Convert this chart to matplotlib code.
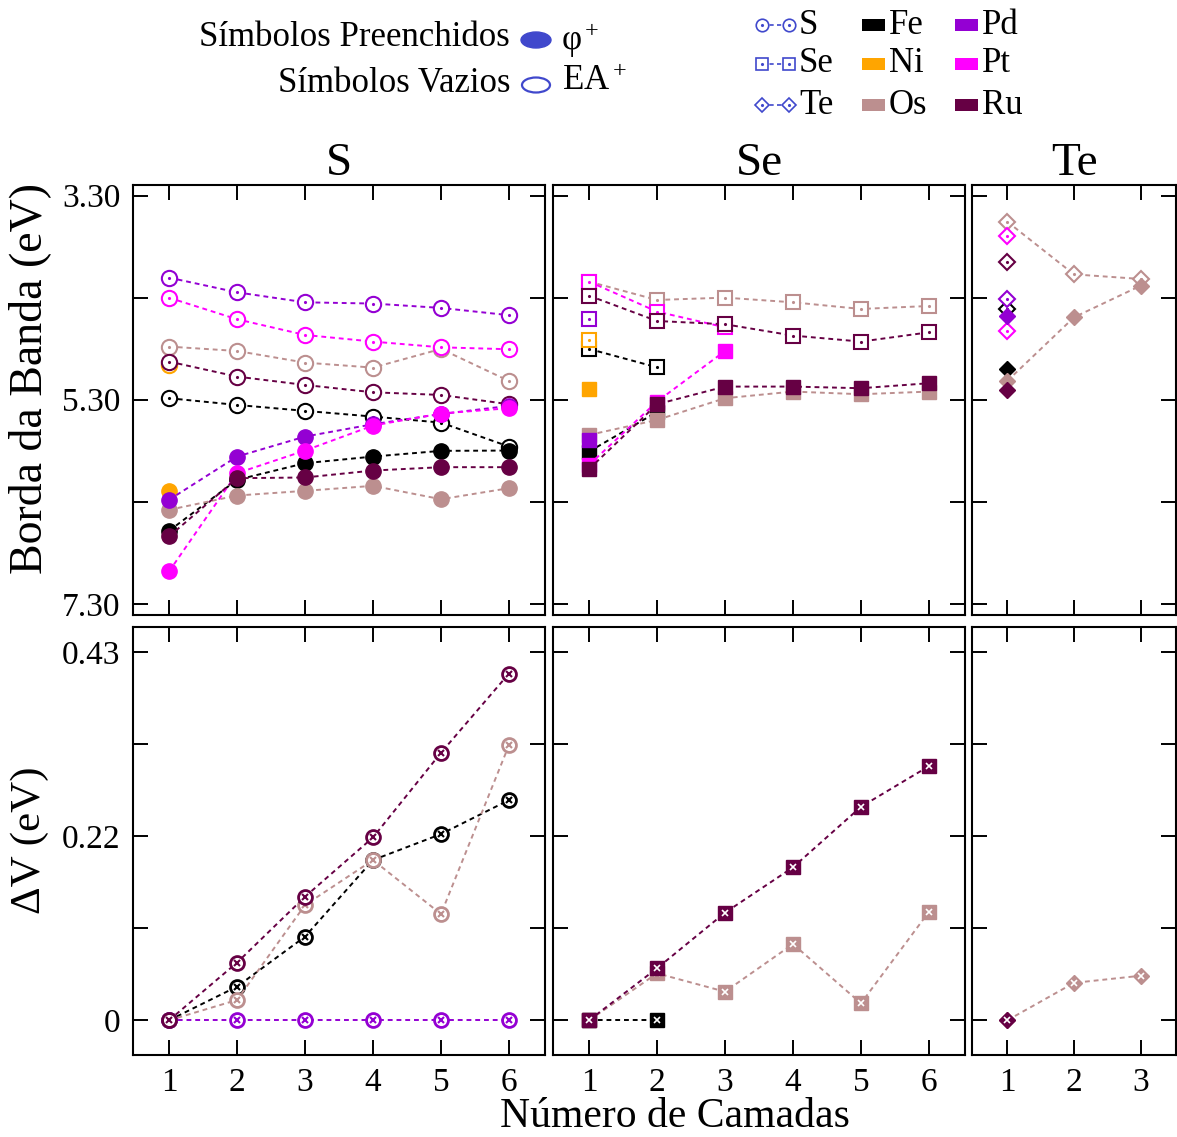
import matplotlib
matplotlib.use("Agg")
import matplotlib.pyplot as plt
from matplotlib.lines import Line2D
from matplotlib.patches import Ellipse, Rectangle

plt.rcParams['font.family'] = ['Liberation Serif', 'DejaVu Serif']
plt.rcParams['mathtext.fontset'] = 'custom'
plt.rcParams['mathtext.rm'] = 'Liberation Serif'
plt.rcParams['mathtext.it'] = 'Liberation Serif:italic'

# colours per metal
metals = ['Fe', 'Ni', 'Os', 'Pd', 'Pt', 'Ru']
colors = {'Fe': '#000000', 'Ni': '#FFA500', 'Os': '#BC8F8F',
          'Pd': '#9400D3', 'Pt': '#FF00FF', 'Ru': '#660044'}
legend_blue = '#4048CC'

# ---- band edges (eV), top row ----
# S panel
S_x = {'Fe': [1, 2, 3, 4, 5, 6], 'Ni': [1], 'Os': [1, 2, 3, 4, 5, 6],
       'Pd': [1, 2, 3, 4, 5, 6], 'Pt': [1, 2, 3, 4, 5, 6], 'Ru': [1, 2, 3, 4, 5, 6]}
S_ea = {'Fe': [5.285, 5.351, 5.409, 5.465, 5.524, 5.759],
        'Ni': [4.96],
        'Os': [4.779, 4.822, 4.936, 4.985, 4.802, 5.116],
        'Pd': [4.103, 4.247, 4.345, 4.357, 4.40, 4.471],
        'Pt': [4.30, 4.511, 4.665, 4.730, 4.786, 4.805],
        'Ru': [4.926, 5.073, 5.155, 5.227, 5.253, 5.344]}
S_phi = {'Fe': [6.585, 6.085, 5.922, 5.857, 5.801, 5.798],
         'Ni': [6.193],
         'Os': [6.379, 6.239, 6.193, 6.144, 6.275, 6.167],
         'Pd': [6.281, 5.857, 5.661, 5.54, 5.44, 5.36],
         'Pt': [6.983, 6.02, 5.798, 5.553, 5.435, 5.383],
         'Ru': [6.64, 6.069, 6.062, 5.994, 5.961, 5.961]}

# Se panel
Se_x = {'Fe': [1, 2], 'Ni': [1], 'Os': [1, 2, 3, 4, 5, 6],
        'Pd': [1], 'Pt': [1, 2, 3], 'Ru': [1, 2, 3, 4, 5, 6]}
Se_ea = {'Fe': [4.802, 4.982],
         'Ni': [4.714],
         'Os': [4.142, 4.322, 4.299, 4.345, 4.41, 4.381],
         'Pd': [4.508],
         'Pt': [4.142, 4.436, 4.59],
         'Ru': [4.28, 4.528, 4.56, 4.671, 4.73, 4.639]}
Se_phi = {'Fe': [5.808, 5.42],
          'Ni': [5.197],
          'Os': [5.645, 5.498, 5.285, 5.22, 5.246, 5.22],
          'Pd': [5.693],
          'Pt': [5.938, 5.318, 4.822],
          'Ru': [5.98, 5.344, 5.171, 5.171, 5.187, 5.138]}

# Te panel
Te_ea_x = {'Fe': [1], 'Os': [1, 2, 3], 'Pd': [1], 'Pt': [1, 1], 'Ru': [1]}
Te_ea = {'Fe': [4.41], 'Os': [3.555, 4.071, 4.116], 'Pd': [4.316],
         'Pt': [3.692, 4.622], 'Ru': [3.953]}
Te_phi_x = {'Fe': [1], 'Os': [1, 2, 3], 'Pd': [1], 'Ru': [1]}
Te_phi = {'Fe': [4.998], 'Os': [5.115, 4.492, 4.182], 'Pd': [4.479], 'Ru': [5.204]}

# ---- Delta V (eV), bottom row ----
S_dv_x = {'Fe': [1, 2, 3, 4, 5, 6], 'Os': [1, 2, 3, 4, 5, 6],
          'Pd': [1, 2, 3, 4, 5, 6], 'Ru': [1, 2, 3, 4, 5, 6]}
S_dv = {'Fe': [0, 0.0393, 0.0976, 0.187, 0.2173, 0.257],
        'Os': [0, 0.0237, 0.1345, 0.187, 0.124, 0.3211],
        'Pd': [0, 0, 0, 0, 0, 0],
        'Ru': [0, 0.0673, 0.1442, 0.2134, 0.3122, 0.4047]}
Se_dv_x = {'Fe': [1, 2], 'Os': [1, 2, 3, 4, 5, 6], 'Ru': [1, 2, 3, 4, 5, 6]}
Se_dv = {'Fe': [0, 0],
         'Os': [0, 0.0548, 0.0334, 0.089, 0.0198, 0.1267],
         'Ru': [0, 0.0607, 0.1256, 0.1785, 0.2492, 0.2966]}
Te_dv_x = {'Os': [1, 2, 3], 'Ru': [1]}
Te_dv = {'Os': [0, 0.0437, 0.052], 'Ru': [0]}

panel_titles = ['S', 'Se', 'Te']
markers = ['o', 's', 'D']

W, H = 1177, 1137
fig = plt.figure(figsize=(W / 100, H / 100), dpi=100)

def px_rect(x0, y0, x1, y1):
    return [x0 / W, 1 - y1 / H, (x1 - x0) / W, (y1 - y0) / H]

cols = [(133, 545), (553, 965), (972, 1176)]
ax_top = [fig.add_axes(px_rect(c[0], 185, c[1], 615)) for c in cols]
ax_bot = [fig.add_axes(px_rect(c[0], 627, c[1], 1055)) for c in cols]

DASH = (0, (2.5, 2))
LW = 1.4


def draw_open(ax, x, y, c, m, ms, connect=True):
    ls = DASH if connect else 'none'
    ax.plot(x, y, linestyle=ls, lw=LW, color=c, marker=m, ms=ms,
            mfc='white', mec=c, mew=1.5)
    ax.plot(x, y, linestyle='none', marker='.', ms=2.5, color=c)


def draw_filled(ax, x, y, c, m, ms, connect=True):
    ls = DASH if connect else 'none'
    ax.plot(x, y, linestyle=ls, lw=LW, color=c, marker=m, ms=ms,
            mfc=c, mec=c, mew=1)


sizes = {'o': 11, 's': 10, 'D': 8.5}
open_sizes = {'o': 11, 's': 10, 'D': 8.5}

# top row
for ax, xs, ea, phi, m in [(ax_top[0], S_x, S_ea, S_phi, 'o'),
                           (ax_top[1], Se_x, Se_ea, Se_phi, 's')]:
    for el in metals:
        draw_open(ax, xs[el], ea[el], colors[el], m, open_sizes[m])
    for el in metals:
        draw_filled(ax, xs[el], phi[el], colors[el], m, sizes[m])

for el in metals:
    if el in Te_ea:
        draw_open(ax_top[2], Te_ea_x[el], Te_ea[el], colors[el], 'D',
                  open_sizes['D'], connect=(el == 'Os'))
for el in metals:
    if el in Te_phi:
        draw_filled(ax_top[2], Te_phi_x[el], Te_phi[el], colors[el], 'D',
                    sizes['D'], connect=(el == 'Os'))

# bottom row
def draw_dv(ax, xs, ys, m):
    for el in metals:
        if el not in ys:
            continue
        c = colors[el]
        if m == 'o':
            ax.plot(xs[el], ys[el], linestyle=DASH, lw=LW, color=c, marker=m,
                    ms=10, mfc='white', mec=c, mew=2)
            ax.plot(xs[el], ys[el], linestyle='none', marker='x', ms=5,
                    mec=c, mew=1.5)
        else:
            ax.plot(xs[el], ys[el], linestyle=DASH, lw=LW, color=c, marker=m,
                    ms=sizes[m], mfc=c, mec=c, mew=1)
            ax.plot(xs[el], ys[el], linestyle='none', marker='x', ms=4,
                    mec='white', mew=1.2)

draw_dv(ax_bot[0], S_dv_x, S_dv, 'o')
draw_dv(ax_bot[1], Se_dv_x, Se_dv, 's')
draw_dv(ax_bot[2], Te_dv_x, Te_dv, 'D')

# axes styling
for i in range(3):
    xmax = 6 if i < 2 else 3
    for ax in (ax_top[i], ax_bot[i]):
        ax.set_xlim(0.47, xmax + 0.53)
        ax.set_xticks(range(1, xmax + 1))
        ax.tick_params(direction='in', length=11, width=1.4, top=True,
                       right=True, labelsize=24, pad=9)
        for s in ax.spines.values():
            s.set_linewidth(1.5)
    ax_top[i].set_ylim(7.41, 3.195)
    ax_top[i].set_yticks([3.30, 4.30, 5.30, 6.30, 7.30])
    ax_bot[i].set_ylim(-0.0405, 0.459)
    ax_bot[i].set_yticks([0, 0.1075, 0.215, 0.3225, 0.43])
    ax_top[i].tick_params(labelbottom=False)
    if i == 0:
        ax_top[i].set_yticklabels(['3.30', '', '5.30', '', '7.30'])
        ax_bot[i].set_yticklabels(['0', '', '0.22', '', '0.43'])
    else:
        ax_top[i].tick_params(labelleft=False)
        ax_bot[i].tick_params(labelleft=False)
    ax_top[i].set_title(panel_titles[i], fontsize=34, pad=6)

fig.text(30 / W, 1 - 378 / H, 'Borda da Banda (eV)', rotation=90,
         ha='center', va='center', fontsize=33)
fig.text(30 / W, 1 - 840 / H, 'ΔV (eV)', rotation=90,
         ha='center', va='center', fontsize=31)
fig.text(675 / W, 1 - 1117 / H, 'Número de Camadas', ha='center',
         va='center', fontsize=30)

# legend, left block
fig.text(510 / W, 1 - 38 / H, 'Símbolos Preenchidos', ha='right',
         va='center', fontsize=25)
fig.text(510 / W, 1 - 83 / H, 'Símbolos Vazios', ha='right',
         va='center', fontsize=25)
fig.add_artist(Ellipse((536 / W, 1 - 40 / H), 30 / W, 16 / H,
                       transform=fig.transFigure, fc=legend_blue, ec=legend_blue))
fig.add_artist(Ellipse((536 / W, 1 - 85 / H), 28 / W, 15 / H,
                       transform=fig.transFigure, fc='none', ec=legend_blue, lw=1.6))
fig.text(561 / W, 1 - 40 / H, 'φ$^+$', ha='left', va='center', fontsize=25)
fig.text(562 / W, 1 - 82 / H, 'EA$^+$', ha='left', va='center', fontsize=25)

# legend, right block
row_y = [25, 64, 105]
for yy, m, lab in zip(row_y, markers, panel_titles):
    fy = 1 - yy / H
    fig.add_artist(Line2D([762 / W, 789 / W], [fy, fy], transform=fig.transFigure,
                          color=legend_blue, lw=1.2, linestyle=DASH, marker=m,
                          ms=9 if m != 'D' else 7, mfc='white', mec=legend_blue, mew=1.2))
    fig.add_artist(Line2D([762 / W, 789 / W], [fy, fy], transform=fig.transFigure,
                          linestyle='none', marker='.', ms=2.5, color=legend_blue))
    fig.text(799 / W, fy, lab, ha='left', va='center', fontsize=25)

patch_cols = [(['Fe', 'Ni', 'Os'], 862), (['Pd', 'Pt', 'Ru'], 955)]
for els, x0 in patch_cols:
    for yy, el in zip(row_y, els):
        fy = 1 - yy / H
        fig.add_artist(Rectangle((x0 / W, fy - 6 / H), 23 / W, 12 / H,
                                 transform=fig.transFigure, fc=colors[el], ec='none'))
        fig.text((x0 + 27) / W, fy, el, ha='left', va='center', fontsize=25)

fig.savefig('out.png', dpi=100)
